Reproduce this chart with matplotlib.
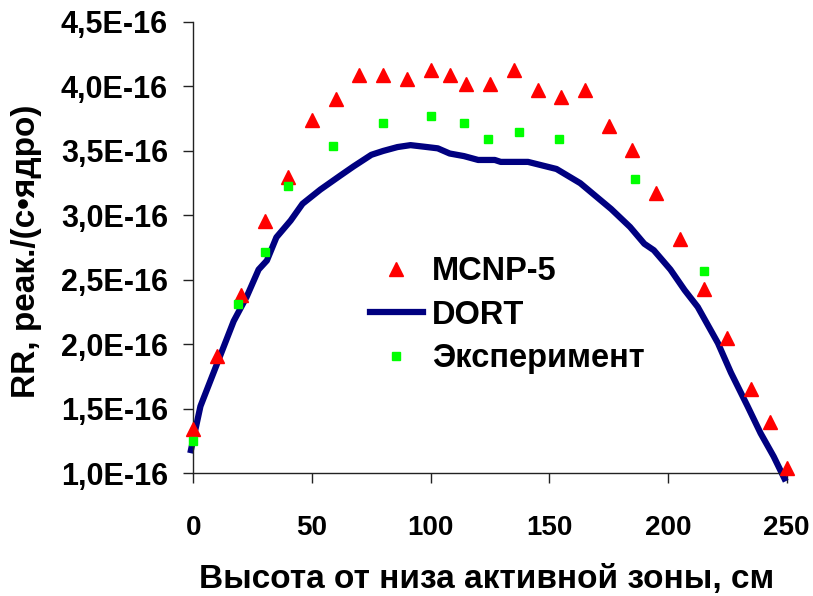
import matplotlib
matplotlib.use("Agg")
import matplotlib.pyplot as plt

# ==========================
# Data
# ==========================
mcnp_x = [0, 10, 20, 30, 40, 50, 60, 70, 80, 90, 100, 108, 115, 125, 135,
          145, 155, 165, 175, 185, 195, 205, 215, 225, 235, 243, 250]
mcnp_y = [1.34, 1.91, 2.38, 2.96, 3.30, 3.74, 3.90, 4.09, 4.09, 4.06, 4.13,
          4.09, 4.02, 4.02, 4.13, 3.97, 3.92, 3.97, 3.69, 3.51, 3.17, 2.82,
          2.43, 2.05, 1.65, 1.40, 1.04]

exp_x = [0, 19, 30, 40, 59, 80, 100, 114, 124, 137, 154, 186, 215]
exp_y = [1.25, 2.31, 2.72, 3.23, 3.54, 3.72, 3.77, 3.72, 3.59, 3.65, 3.59,
         3.28, 2.57]

dort_x = [-1, 3, 10, 17, 22.5, 27.5, 31, 35, 41, 46, 53.5, 62, 67.5, 75, 80,
          86, 91.5, 98.5, 103, 108, 114, 120, 127, 129.5, 141, 153, 163, 176,
          184, 190, 194, 201, 207, 212.5, 221, 226.5, 233.5, 239, 244.5, 249]
dort_y = [1.18, 1.52, 1.85, 2.18, 2.37, 2.58, 2.65, 2.83, 2.96, 3.09, 3.20,
          3.31, 3.38, 3.47, 3.50, 3.53, 3.545, 3.53, 3.52, 3.48, 3.46, 3.43,
          3.43, 3.415, 3.415, 3.36, 3.25, 3.05, 2.91, 2.78, 2.73, 2.58, 2.42,
          2.29, 2.01, 1.78, 1.52, 1.31, 1.13, 0.96]

x_ticks = [0, 50, 100, 150, 200, 250]
y_ticks = [1.0, 1.5, 2.0, 2.5, 3.0, 3.5, 4.0, 4.5]
y_tick_labels = ["1,0E-16", "1,5E-16", "2,0E-16", "2,5E-16",
                 "3,0E-16", "3,5E-16", "4,0E-16", "4,5E-16"]

scale = 1e-16

# ==========================
# Plot
# ==========================
plt.rcParams["font.family"] = ["Liberation Sans", "DejaVu Sans"]
plt.rcParams["font.weight"] = "bold"

fig = plt.figure(figsize=(8.13, 5.96), dpi=100)
ax = fig.add_axes([0.2378, 0.2059, 0.7299, 0.7572])

ax.plot(mcnp_x, [v * scale for v in mcnp_y],
        linestyle="none", marker="^", markersize=10,
        color="#ff0000", label="MCNP-5", clip_on=False, zorder=3)
ax.plot(dort_x, [v * scale for v in dort_y],
        color="#000080", linewidth=4.5, label="DORT",
        clip_on=False, zorder=2)
ax.plot(exp_x, [v * scale for v in exp_y],
        linestyle="none", marker="s", markersize=6,
        color="#00ff00", label="Эксперимент", clip_on=False, zorder=4)

ax.set_xlim(0, 250)
ax.set_ylim(1.0 * scale, 4.5 * scale)

ax.set_xticks(x_ticks)
ax.set_xticklabels([str(t) for t in x_ticks], fontsize=20, fontweight="bold")
ax.set_yticks([v * scale for v in y_ticks])
ax.set_yticklabels(y_tick_labels, fontsize=22, fontweight="bold")

ax.tick_params(axis="x", direction="out", length=7.2, width=1,
               pad=23, color="#222222")
ax.tick_params(axis="y", direction="out", length=7.2, width=1,
               pad=11, color="#222222")

for side in ["top", "right"]:
    ax.spines[side].set_visible(False)
for side in ["left", "bottom"]:
    ax.spines[side].set_color("#222222")
    ax.spines[side].set_linewidth(1)

# axis titles
fig.text(0.5985, 0.014, "Высота от низа активной зоны, см",
         ha="center", va="baseline", fontsize=24, fontweight="bold")
fig.text(0.033, 0.578, "RR, реак./(с•ядро)", rotation=90,
         ha="center", va="center", fontsize=24, fontweight="bold")

# legend
ax.legend(loc="upper left", bbox_to_anchor=(0.455, 0.57, 0, 0),
          bbox_transform=fig.transFigure, frameon=False,
          handlelength=1.62, handletextpad=0.28,
          labelspacing=0.38, borderpad=0, borderaxespad=0,
          prop={"weight": "bold", "size": 23.5})

fig.savefig("out.png", dpi=100)
